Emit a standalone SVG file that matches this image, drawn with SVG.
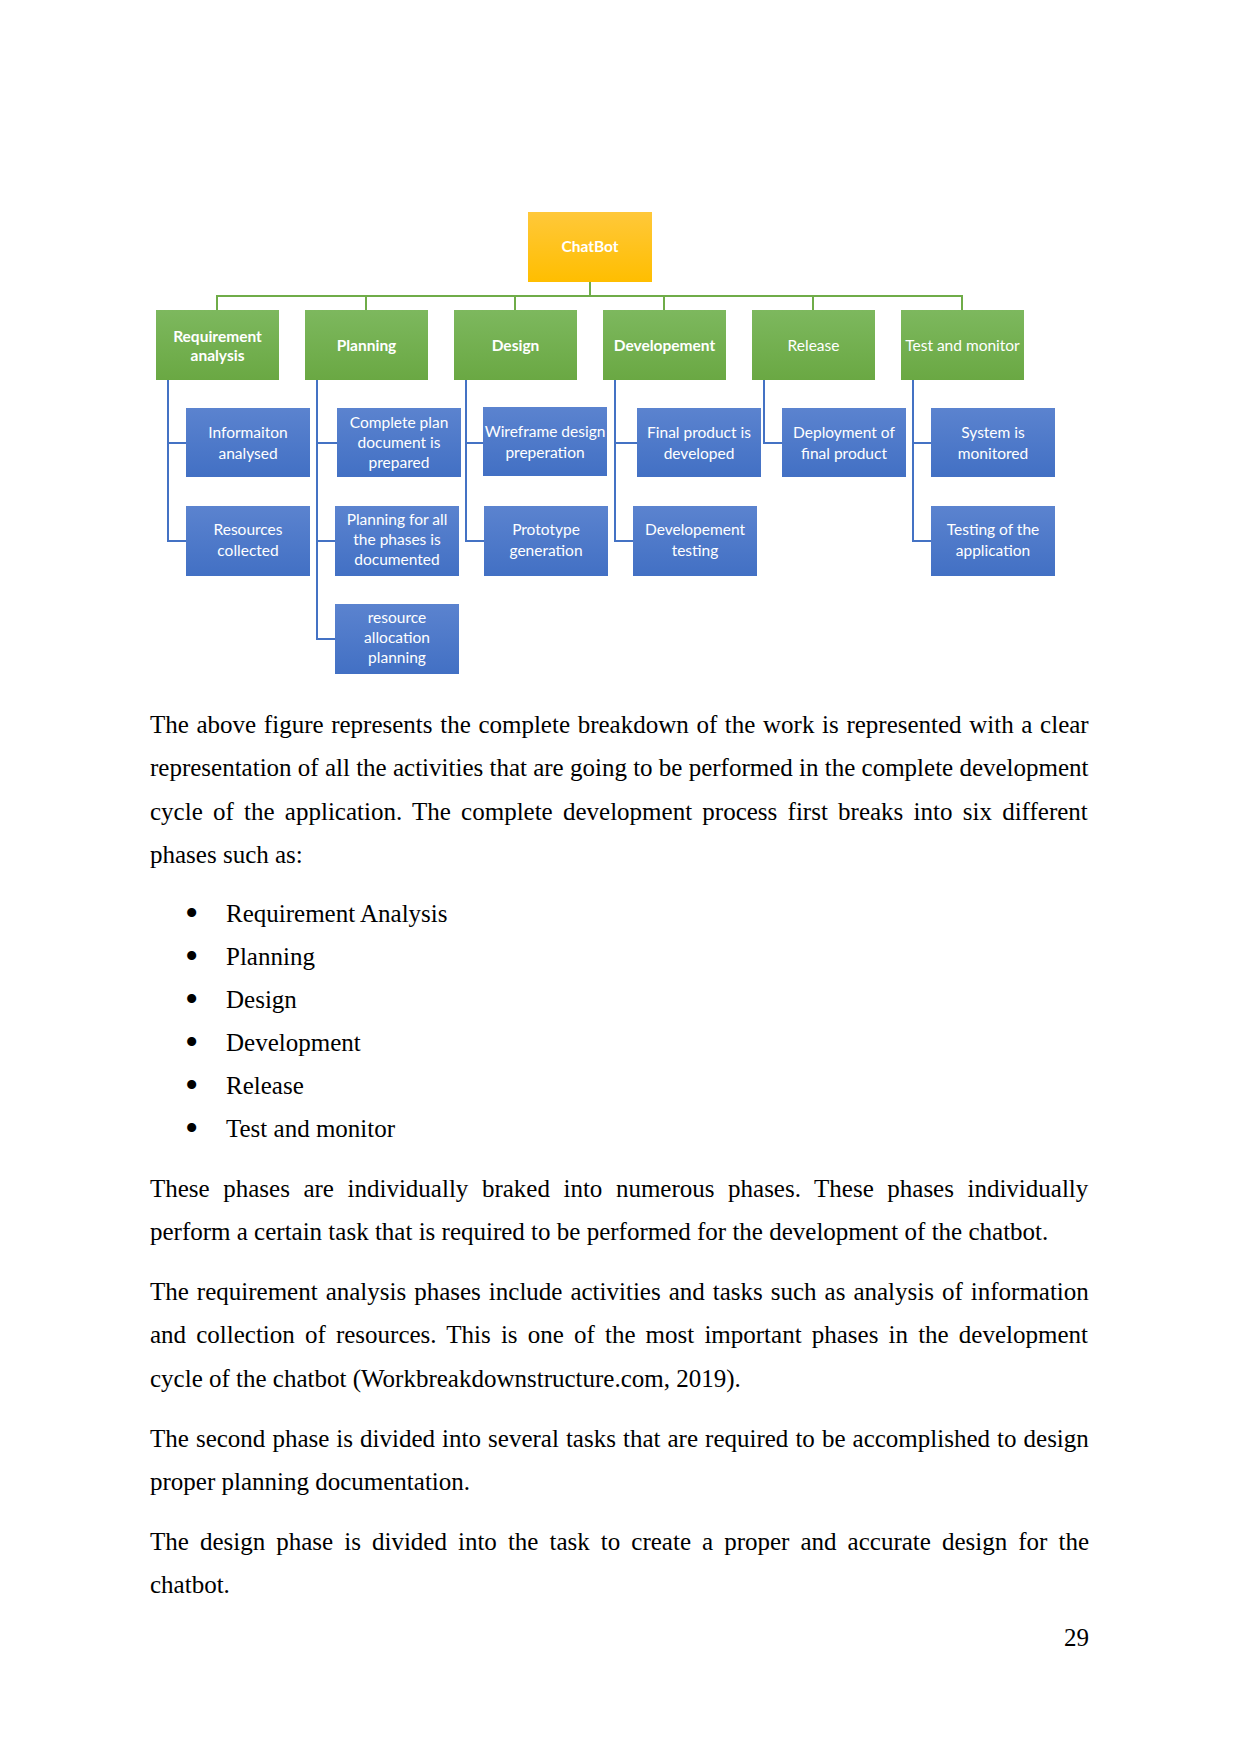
<svg xmlns="http://www.w3.org/2000/svg" width="1241" height="1754" viewBox="0 0 1241 1754">
<defs>
<linearGradient id="gOrange" x1="0" y1="0" x2="0" y2="1"><stop offset="0" stop-color="#FFC83A"/><stop offset="1" stop-color="#FFBE00"/></linearGradient>
<linearGradient id="gGreen" x1="0" y1="0" x2="0" y2="1"><stop offset="0" stop-color="#7DB85E"/><stop offset="1" stop-color="#6AA843"/></linearGradient>
<linearGradient id="gBlue" x1="0" y1="0" x2="0" y2="1"><stop offset="0" stop-color="#5B83CF"/><stop offset="1" stop-color="#4270C4"/></linearGradient>
<style>
.root{fill:url(#gOrange)}
.phase{fill:url(#gGreen)}
.task{fill:url(#gBlue)}
.lbl{font-family:Lato,"Liberation Sans",sans-serif;font-size:15.5px;fill:#fff;text-anchor:middle}
.b{font-weight:bold}
.cg{stroke:#6FAC48;stroke-width:2;fill:none}
.cb{stroke:#4472C4;stroke-width:2;fill:none}
.body{font-family:"Liberation Serif","Times New Roman",serif;font-size:25px;fill:#000}
.bul{font-size:38px}
</style>
</defs>
<rect width="1241" height="1754" fill="#fff"/>

<g id="connectors">
<path class="cg" d="M590 282V296M217 310V296H962V310M366 296V310M515 296V310M664 296V310M813 296V310"/>
<path class="cb" d="M168 380V541H186M168 443H186"/>
<path class="cb" d="M317 380V639H335M317 443H337M317 541H335"/>
<path class="cb" d="M466 380V541H484M466 443H483"/>
<path class="cb" d="M615 380V541H633M615 443H637"/>
<path class="cb" d="M764 380V443H782"/>
<path class="cb" d="M913 380V541H931M913 443H931"/>
</g>

<g id="chatbot"><rect class="root" x="528" y="212" width="124" height="70"/><text class="lbl b" x="590" y="252">ChatBot</text></g>

<g id="requirement-analysis"><rect class="phase" x="156" y="310" width="123" height="70"/><text class="lbl b" x="217.5" y="342">Requirement</text><text class="lbl b" x="217.5" y="361">analysis</text></g>
<g id="planning"><rect class="phase" x="305" y="310" width="123" height="70"/><text class="lbl b" x="366.5" y="351">Planning</text></g>
<g id="design"><rect class="phase" x="454" y="310" width="123" height="70"/><text class="lbl b" x="515.5" y="351">Design</text></g>
<g id="developement"><rect class="phase" x="603" y="310" width="123" height="70"/><text class="lbl b" x="664.5" y="351">Developement</text></g>
<g id="release"><rect class="phase" x="752" y="310" width="123" height="70"/><text class="lbl" x="813.5" y="351">Release</text></g>
<g id="test-and-monitor"><rect class="phase" x="901" y="310" width="123" height="70"/><text class="lbl" x="962.5" y="351">Test and monitor</text></g>

<g id="information-analysed"><rect class="task" x="186" y="408" width="124" height="69"/><text class="lbl" x="248" y="438">Informaiton</text><text class="lbl" x="248" y="459">analysed</text></g>
<g id="resources-collected"><rect class="task" x="186" y="506" width="124" height="70"/><text class="lbl" x="248" y="535">Resources</text><text class="lbl" x="248" y="556">collected</text></g>

<g id="complete-plan"><rect class="task" x="337" y="408" width="124" height="69"/><text class="lbl" x="399" y="428">Complete plan</text><text class="lbl" x="399" y="448">document is</text><text class="lbl" x="399" y="468">prepared</text></g>
<g id="planning-all-phases"><rect class="task" x="335" y="506" width="124" height="70"/><text class="lbl" x="397" y="525">Planning for all</text><text class="lbl" x="397" y="545">the phases is</text><text class="lbl" x="397" y="565">documented</text></g>
<g id="resource-allocation"><rect class="task" x="335" y="604" width="124" height="70"/><text class="lbl" x="397" y="623">resource</text><text class="lbl" x="397" y="643">allocation</text><text class="lbl" x="397" y="663">planning</text></g>

<g id="wireframe"><rect class="task" x="483" y="407" width="124" height="69"/><text class="lbl" x="545" y="437">Wireframe design</text><text class="lbl" x="545" y="458">preperation</text></g>
<g id="prototype"><rect class="task" x="484" y="506" width="124" height="70"/><text class="lbl" x="546" y="535">Prototype</text><text class="lbl" x="546" y="556">generation</text></g>

<g id="final-product"><rect class="task" x="637" y="408" width="124" height="69"/><text class="lbl" x="699" y="438">Final product is</text><text class="lbl" x="699" y="459">developed</text></g>
<g id="developement-testing"><rect class="task" x="633" y="506" width="124" height="70"/><text class="lbl" x="695" y="535">Developement</text><text class="lbl" x="695" y="556">testing</text></g>

<g id="deployment"><rect class="task" x="782" y="408" width="124" height="69"/><text class="lbl" x="844" y="438">Deployment of</text><text class="lbl" x="844" y="459">final product</text></g>

<g id="system-monitored"><rect class="task" x="931" y="408" width="124" height="69"/><text class="lbl" x="993" y="438">System is</text><text class="lbl" x="993" y="459">monitored</text></g>
<g id="testing-application"><rect class="task" x="931" y="506" width="124" height="70"/><text class="lbl" x="993" y="535">Testing of the</text><text class="lbl" x="993" y="556">application</text></g>

<g id="body-text" class="body">
<text x="150" y="733" word-spacing="1.4">The above figure represents the complete breakdown of the work is represented with a clear</text>
<text x="150" y="776">representation of all the activities that are going to be performed in the complete development</text>
<text x="150" y="820" word-spacing="4">cycle of the application. The complete development process first breaks into six different</text>
<text x="150" y="863">phases such as:</text>

<text class="bul" x="185" y="926">•</text><text x="226" y="922">Requirement Analysis</text>
<text class="bul" x="185" y="969">•</text><text x="226" y="965">Planning</text>
<text class="bul" x="185" y="1012">•</text><text x="226" y="1008">Design</text>
<text class="bul" x="185" y="1055">•</text><text x="226" y="1051">Development</text>
<text class="bul" x="185" y="1098">•</text><text x="226" y="1094">Release</text>
<text class="bul" x="185" y="1141">•</text><text x="226" y="1137">Test and monitor</text>

<text x="150" y="1197" word-spacing="7.3">These phases are individually braked into numerous phases. These phases individually</text>
<text x="150" y="1240">perform a certain task that is required to be performed for the development of the chatbot.</text>

<text x="150" y="1300" word-spacing="1.75">The requirement analysis phases include activities and tasks such as analysis of information</text>
<text x="150" y="1343" word-spacing="3.9">and collection of resources. This is one of the most important phases in the development</text>
<text x="150" y="1387">cycle of the chatbot (Workbreakdownstructure.com, 2019).</text>

<text x="150" y="1447" word-spacing="0.8">The second phase is divided into several tasks that are required to be accomplished to design</text>
<text x="150" y="1490">proper planning documentation.</text>

<text x="150" y="1550" word-spacing="4.8">The design phase is divided into the task to create a proper and accurate design for the</text>
<text x="150" y="1593">chatbot.</text>

<text x="1089" y="1646" text-anchor="end">29</text>
</g>
</svg>
